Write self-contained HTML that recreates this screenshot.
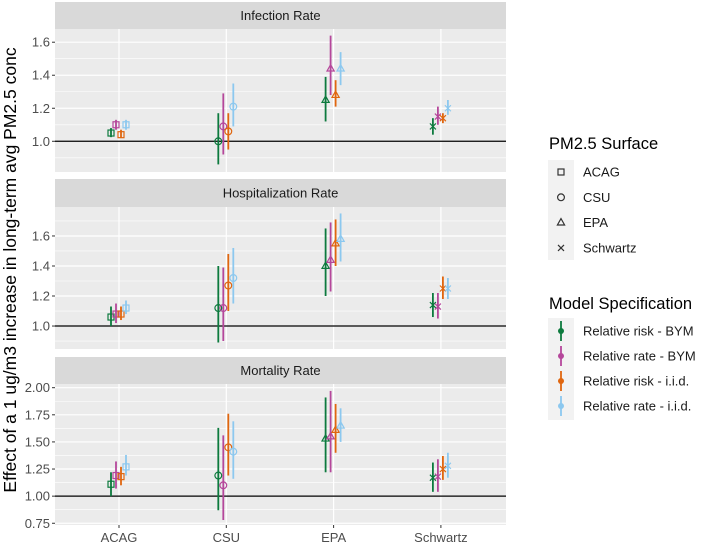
<!DOCTYPE html>
<html><head><meta charset="utf-8"><style>
html,body{margin:0;padding:0;background:#fff;}
svg{display:block;font-family:"Liberation Sans",Arial,sans-serif;}
</style></head><body>
<svg id="chart" width="704" height="546" viewBox="0 0 704 546" xmlns="http://www.w3.org/2000/svg"></svg>
<script>
const categories = ["ACAG","CSU","EPA","Schwartz"];
const models = ["Relative risk - BYM","Relative rate - BYM","Relative risk - i.i.d.","Relative rate - i.i.d."];
const panelTitles = ["Infection Rate","Hospitalization Rate","Mortality Rate"];
const infEst = [[1.05,1.00,1.25,1.09],[1.10,1.09,1.44,1.15],[1.04,1.06,1.28,1.14],[1.10,1.21,1.44,1.20]];
const infLo  = [[1.025,0.86,1.12,1.04],[1.07,0.92,1.28,1.10],[1.02,0.95,1.21,1.11],[1.07,1.09,1.34,1.16]];
const infHi  = [[1.08,1.17,1.39,1.14],[1.13,1.29,1.64,1.21],[1.07,1.17,1.37,1.17],[1.13,1.35,1.54,1.25]];
const hosEst = [[1.06,1.12,1.40,1.14],[1.08,1.12,1.44,1.13],[1.08,1.27,1.55,1.25],[1.12,1.32,1.58,1.25]];
const hosLo  = [[1.00,0.89,1.20,1.06],[1.02,0.90,1.23,1.05],[1.04,1.10,1.40,1.18],[1.08,1.15,1.43,1.18]];
const hosHi  = [[1.13,1.40,1.65,1.22],[1.15,1.39,1.69,1.22],[1.13,1.48,1.71,1.33],[1.17,1.52,1.75,1.32]];
const morEst = [[1.11,1.19,1.53,1.17],[1.19,1.10,1.55,1.18],[1.18,1.45,1.61,1.25],[1.27,1.41,1.65,1.28]];
const morLo  = [[1.00,0.87,1.22,1.04],[1.07,0.78,1.22,1.04],[1.10,1.19,1.40,1.15],[1.19,1.16,1.50,1.17]];
const morHi  = [[1.22,1.63,1.91,1.31],[1.32,1.56,1.97,1.34],[1.27,1.76,1.85,1.37],[1.38,1.69,1.81,1.40]];
const infTicks = [1.0,1.2,1.4,1.6];
const hosTicks = [1.0,1.2,1.4,1.6];
const morTicks = [0.75,1.00,1.25,1.50,1.75,2.00];
const morTickLabels = ["0.75","1.00","1.25","1.50","1.75","2.00"];

const colors = ["#0d7a3e","#b5479b","#e0660f","#8cc8ef"];
const NS = "http://www.w3.org/2000/svg";
const svg = document.getElementById("chart");
function mk(tag, attrs, parent){const e=document.createElementNS(NS,tag);for(const k in attrs)e.setAttribute(k,attrs[k]);(parent||svg).appendChild(e);return e;}

const X0=55, X1=506;
const catX = i => 119 + i*107.3;
const dodge = [-8,-3,2,7];
const panels = [
 {strip:[2,29], plot:[29,172], ymin:0.814, ymax:1.68, est:infEst, lo:infLo, hi:infHi, ticks:infTicks, labels:infTicks.map(v=>v.toFixed(1))},
 {strip:[179,207], plot:[207,349], ymin:0.847, ymax:1.793, est:hosEst, lo:hosLo, hi:hosHi, ticks:hosTicks, labels:hosTicks.map(v=>v.toFixed(1))},
 {strip:[357,384], plot:[384,525], ymin:0.734, ymax:2.034, est:morEst, lo:morLo, hi:morHi, ticks:morTicks, labels:morTickLabels}
];

function shape(g, type, x, y, c){
  const s=3;
  if(type===0){return mk("rect",{x:x-s,y:y-s,width:2*s,height:2*s,fill:"none",stroke:c,"stroke-width":1.2},g);}
  if(type===1){return mk("circle",{cx:x,cy:y,r:s+0.4,fill:"none",stroke:c,"stroke-width":1.2},g);}
  if(type===2){return mk("polygon",{points:`${x},${y-s-1} ${x-s-0.6},${y+s-0.6} ${x+s+0.6},${y+s-0.6}`,fill:"none",stroke:c,"stroke-width":1.2},g);}
  return mk("path",{d:`M${x-s},${y-s}L${x+s},${y+s}M${x-s},${y+s}L${x+s},${y-s}`,stroke:c,"stroke-width":1.2},g);
}

panels.forEach((p,pi)=>{
  const g=mk("g",{});
  
  
  const y = v => p.plot[1] - (v-p.ymin)/(p.ymax-p.ymin)*(p.plot[1]-p.plot[0]);
  const strip=mk("rect",{x:X0,y:p.strip[0],width:X1-X0,height:p.strip[1]-p.strip[0],fill:"#d9d9d9"},g);
  
  
  const st=mk("text",{x:(X0+X1)/2,y:(p.strip[0]+p.strip[1])/2+4.5,"text-anchor":"middle","font-size":"13","fill":"#1a1a1a"},g);
  st.textContent=panelTitles[pi];
  
  
  mk("rect",{x:X0,y:p.plot[0],width:X1-X0,height:p.plot[1]-p.plot[0],fill:"#ebebeb"},g);
  for(let i=0;i<p.ticks.length-1;i++){const m=(p.ticks[i]+p.ticks[i+1])/2;mk("line",{x1:X0,x2:X1,y1:y(m),y2:y(m),stroke:"#fff","stroke-width":0.6},g);}
  const step=p.ticks[1]-p.ticks[0];
  [p.ticks[0]-step/2,p.ticks[p.ticks.length-1]+step/2].forEach(m=>{if(m>p.ymin&&m<p.ymax)mk("line",{x1:X0,x2:X1,y1:y(m),y2:y(m),stroke:"#fff","stroke-width":0.6},g);});
  p.ticks.forEach((t,ti)=>{
    mk("line",{x1:X0,x2:X1,y1:y(t),y2:y(t),stroke:"#fff","stroke-width":1.2},g);
    mk("line",{x1:X0-3,x2:X0,y1:y(t),y2:y(t),stroke:"#333","stroke-width":1},g);
    const tl=mk("text",{x:X0-5,y:y(t)+4.5,"text-anchor":"end","font-size":"13","fill":"#4d4d4d"},g);
    tl.textContent=p.labels[ti];
    
    
  });
  categories.forEach((c,ci)=>mk("line",{x1:catX(ci),x2:catX(ci),y1:p.plot[0],y2:p.plot[1],stroke:"#fff","stroke-width":1.2},g));
  mk("line",{x1:X0,x2:X1,y1:y(1),y2:y(1),stroke:"#000","stroke-width":1.3},g);
  models.forEach((m,mi)=>{
    categories.forEach((c,ci)=>{
      const x=catX(ci)+dodge[mi];
      const eg=mk("g",{},g);
      
      
      mk("line",{x1:x,x2:x,y1:y(p.lo[mi][ci]),y2:y(p.hi[mi][ci]),stroke:colors[mi],"stroke-width":1.8},eg);
      shape(eg,ci,x,y(p.est[mi][ci]),colors[mi]);
    });
  });
});
categories.forEach((c,ci)=>{
  mk("line",{x1:catX(ci),x2:catX(ci),y1:525,y2:528,stroke:"#333"});
  const t=mk("text",{x:catX(ci),y:542,"text-anchor":"middle","font-size":"13","fill":"#4d4d4d"});
  t.textContent=c;
  
  
});
const yt=mk("text",{x:0,y:0,transform:"translate(16,270) rotate(-90)","text-anchor":"middle","font-size":"17.5","fill":"#000"});
yt.textContent="Effect of a 1 ug/m3 increase in long-term avg PM2.5 conc";



const l1=mk("g",{});


const t1=mk("text",{x:549,y:149,"font-size":"16.5","fill":"#000"},l1);t1.textContent="PM2.5 Surface";
mk("rect",{x:548,y:160,width:26,height:100,fill:"#f2f2f2"},l1);
categories.forEach((c,ci)=>{
  const yy=172+ci*25.3;
  const eg=mk("g",{},l1);
  
  
  shape(eg,ci,561,yy,"#333");
  const t=mk("text",{x:583,y:yy+4.5,"font-size":"13","fill":"#1a1a1a"},eg);t.textContent=c;
});
const l2=mk("g",{});


const t2=mk("text",{x:549,y:309,"font-size":"16.5","fill":"#000"},l2);t2.textContent="Model Specification";
mk("rect",{x:548,y:318,width:26,height:102,fill:"#f2f2f2"},l2);
models.forEach((m,mi)=>{
  const yy=331+mi*25;
  const eg=mk("g",{},l2);
  
  
  mk("line",{x1:561,x2:561,y1:yy-10,y2:yy+10,stroke:colors[mi],"stroke-width":1.8},eg);
  mk("circle",{cx:561,cy:yy,r:3,fill:colors[mi]},eg);
  const t=mk("text",{x:583,y:yy+4.5,"font-size":"13","fill":"#1a1a1a"},eg);t.textContent=m;
});
</script>
</body></html>
